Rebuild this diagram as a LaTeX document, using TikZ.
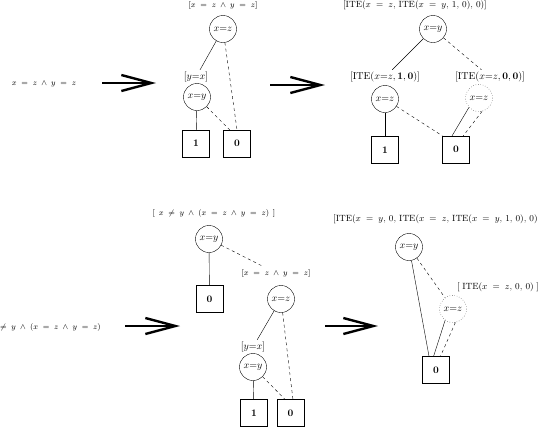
\documentclass[tikz,border=0pt]{standalone}
\usetikzlibrary{arrows.meta}
\begin{document}
\begin{tikzpicture}[x=1pt,y=-1pt,
  cnode/.style={circle,draw,minimum size=27pt,inner sep=0pt,font=\normalsize},
  dnode/.style={cnode,dotted},
  leaf/.style={rectangle,draw,minimum size=27pt,inner sep=0pt,font=\bfseries},
  tlbl/.style={inner sep=2pt,font=\normalsize},
  slbl/.style={inner sep=2pt,font=\footnotesize},
  ilbl/.style={inner sep=2pt,font=\small},
  dashedge/.style={dashed},
  bigarrow/.style={line width=2.4pt,-{Straight Barb[length=30pt,width=16pt]}}
]
\useasboundingbox (0,0) rectangle (547,445);

% ---------- top left text and arrow ----------
\node[slbl] (t1) at (44,84) {$x \;=\; z \;\wedge\; y \;=\; z$};
\coordinate (a1s) at (102,83);
\coordinate (a1e) at (156,83);
\draw[bigarrow] (a1s) -- (a1e);

% ---------- tree 1 ----------
\node[slbl] (l1) at (223,5) {$[x \;=\; z \;\wedge\; y \;=\; z]$};
\node[cnode] (A) at (223,29) {$x{=}z$};
\node[tlbl] (lyx1) at (196,77) {$[y{=}x]$};
\node[cnode] (B) at (197,97) {$x{=}y$};
\node[leaf] (one1) at (196,143.5) {1};
\node[leaf] (zero1) at (237,143.5) {0};
\draw (A) -- (lyx1);
\draw[dashedge] (A) -- (zero1.north);
\draw (B) -- (one1);
\draw[dashedge] (B) -- (zero1.118);

\coordinate (a2s) at (270,85);
\coordinate (a2e) at (325,85);
\draw[bigarrow] (a2s) -- (a2e);

% ---------- tree 2 ----------
\node[ilbl] (l2) at (415,5) {$[\mathrm{ITE}(x \;=\; z,\, \mathrm{ITE}(x \;=\; y,\, 1,\, 0),\, 0)]$};
\node[cnode] (C) at (433,29) {$x{=}y$};
\node[tlbl] (li1) at (385,77) {$[\mathrm{ITE}(x{=}z, \mathbf{1}, \mathbf{0})]$};
\node[tlbl] (li2) at (490,77) {$[\mathrm{ITE}(x{=}z, \mathbf{0}, \mathbf{0})]$};
\node[cnode] (D) at (385,99) {$x{=}z$};
\node[dnode] (E) at (479,98) {$x{=}z$};
\node[leaf] (one2) at (385,150) {1};
\node[leaf] (zero2) at (456,149.5) {0};
\draw (C) -- (li1);
\draw[dashedge] (C) -- (li2);
\draw (D) -- (one2);
\draw[dashedge] (D) -- (zero2.north west);
\draw (E.223) -- (zero2.106);
\draw[dashedge] (E.283) -- (zero2.62);

% ---------- bottom left text and arrow ----------
\node[slbl,anchor=east] (t2) at (103,327) {$x \;\neq\; y \;\wedge\; (x \;=\; z \;\wedge\; y \;=\; z)$};
\coordinate (a3s) at (125,326);
\coordinate (a3e) at (180,326);
\draw[bigarrow] (a3s) -- (a3e);

% ---------- tree 3 ----------
\node[slbl] (l3) at (214,213) {$[\;\, x \;\neq\; y \;\wedge\; (x \;=\; z \;\wedge\; y \;=\; z) \;\,]$};
\node[cnode] (F) at (209,239) {$x{=}y$};
\node[leaf] (zero3) at (209.5,299) {0};
\node[slbl] (l4) at (276,273) {$[x \;=\; z \;\wedge\; y \;=\; z]$};
\node[cnode] (G) at (281,299) {$x{=}z$};
\node[tlbl] (lyx2) at (253,347) {$[y{=}x]$};
\node[cnode] (H) at (253,367) {$x{=}y$};
\node[leaf] (one4) at (254,413) {1};
\node[leaf] (zero4) at (290.5,413) {0};
\draw (F) -- (zero3);
\draw[dashedge] (F) -- (l4);
\draw (G) -- (lyx2);
\draw[dashedge] (G) -- (zero4.80);
\draw (H) -- (one4);
\draw[dashedge] (H) -- (zero4.112);

\coordinate (a4s) at (325,326);
\coordinate (a4e) at (378,326);
\draw[bigarrow] (a4s) -- (a4e);

% ---------- tree 4 ----------
\node[ilbl,anchor=west] (l5) at (331,219) {$[\mathrm{ITE}(x \;=\; y,\, 0,\, \mathrm{ITE}(x \;=\; z,\, \mathrm{ITE}(x \;=\; y,\, 1,\, 0),\, 0)$};
\node[cnode] (I) at (409,247) {$x{=}y$};
\node[ilbl] (l6) at (498,287) {$[\; \mathrm{ITE}(x \;=\; z,\, 0,\, 0) \;]$};
\node[dnode] (J) at (453,309) {$x{=}z$};
\node[leaf] (zero5) at (436,370) {0};
\draw (I) -- (zero5.117);
\draw[dashedge] (I) -- (J);
\draw (J.235) -- (zero5.100);
\draw[dashedge] (J.280) -- (zero5.72);
\end{tikzpicture}
\end{document}
